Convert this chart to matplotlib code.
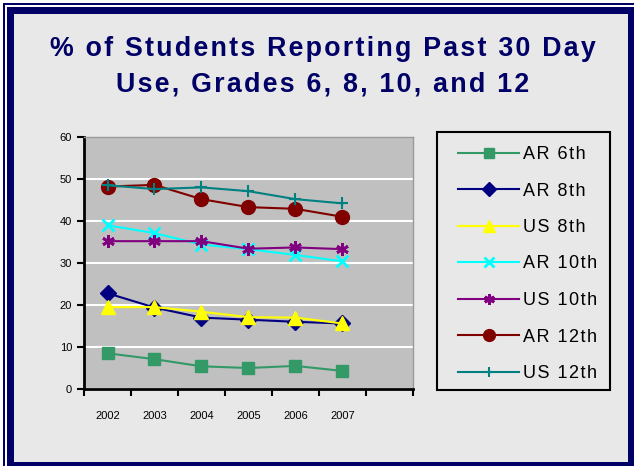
import matplotlib

matplotlib.use("Agg")
import matplotlib.pyplot as plt
from matplotlib.patches import Rectangle
import numpy as np

plt.rcParams["font.family"] = ["Liberation Sans", "DejaVu Sans"]

# Data
years = ["2002", "2003", "2004", "2005", "2006", "2007"]
ar_6th = [8.5, 7.1, 5.4, 5.0, 5.5, 4.3]
ar_8th = [22.8, 19.4, 17.0, 16.5, 16.0, 15.6]
us_8th = [19.5, 19.5, 18.4, 17.1, 17.0, 15.6]
ar_10th = [39.0, 37.1, 34.4, 33.3, 31.9, 30.4]
us_10th = [35.2, 35.2, 35.2, 33.4, 33.7, 33.3]
ar_12th = [48.2, 48.6, 45.2, 43.3, 42.9, 41.0]
us_12th = [48.5, 47.6, 48.0, 47.1, 45.2, 44.2]

series = [
    ("AR 6th", ar_6th, "#339966", "s", 9, 1.0),
    ("AR 8th", ar_8th, "#000080", "D", 8, 1.0),
    ("US 8th", us_8th, "#ffff00", "^", 10, 1.0),
    ("AR 10th", ar_10th, "#00ffff", "x", 8, 2.0),
    ("US 10th", us_10th, "#800080", (6, 2, 0), 9, 2.0),
    ("AR 12th", ar_12th, "#800000", "o", 10, 1.0),
    ("US 12th", us_12th, "#008080", "+", 9, 1.5),
]

NAVY = "#000066"
BG = "#e8e8e8"
HAIR = "\u200a"


def spaced(s):
    # mimic the wide letter spacing of the original
    return HAIR.join(s)


fig = plt.figure(figsize=(6.34, 4.66), dpi=100)
fig.patch.set_facecolor("white")

W, H = 634, 466


def px_rect(x0, y0, x1, y1, z=-5, **kw):
    # rectangle in pixel coords (top-left origin)
    fig.patches.append(
        Rectangle((x0 / W, 1 - y1 / H), (x1 - x0) / W, (y1 - y0) / H,
                  transform=fig.transFigure, figure=fig, zorder=z, **kw)
    )


# double navy frame
px_rect(3, 3, 640, 470, facecolor=NAVY, edgecolor="none")
px_rect(5, 5, 640, 470, facecolor="white", edgecolor="none")
px_rect(7, 7, 640, 470, facecolor=NAVY, edgecolor="none")
px_rect(14, 14, 628, 462, facecolor=BG, edgecolor="none")
# legend box
px_rect(437, 132, 610, 390, z=-4, facecolor="none", edgecolor="black",
        linewidth=1.5)

fig.text(0.509, 1 - 49 / H, spaced("% of Students Reporting Past 30 Day"),
         ha="center", va="center", fontsize=19.3, fontweight="bold", color=NAVY)
fig.text(0.509, 1 - 84 / H, spaced("Use, Grades 6, 8, 10, and 12"),
         ha="center", va="center", fontsize=19.3, fontweight="bold", color=NAVY)

ax = fig.add_axes([84 / W, 1 - 389 / H, (413 - 84) / W, (389 - 137) / H])
ax.set_facecolor("#c0c0c0")

x = np.arange(len(years)) + 0.5
for label, vals, color, marker, ms, mew in series:
    ax.plot(x, vals, color=color, marker=marker, markersize=ms,
            markerfacecolor=color, markeredgecolor=color, markeredgewidth=mew,
            linewidth=1.5, label=spaced(label), zorder=3)

ax.set_xlim(0, 7)
ax.set_ylim(0, 60)
ax.set_yticks(range(0, 61, 10))
ax.set_xticks(range(0, 8))
ax.set_xticklabels([])
ax.set_xticks(x, minor=True)
ax.set_xticklabels(years, minor=True)
ax.tick_params(axis="x", which="minor", length=0, labelsize=8, pad=16)
ax.tick_params(axis="x", which="major", length=5, width=1.5, direction="out")
ax.tick_params(axis="y", length=5, width=1.5, direction="out", labelsize=8)
ax.yaxis.grid(True, color="white", linewidth=1.5)
ax.set_axisbelow(True)
for side in ["left", "bottom"]:
    ax.spines[side].set_linewidth(2)
    ax.spines[side].set_color("black")
for side in ["top", "right"]:
    ax.spines[side].set_color("#999999")
    ax.spines[side].set_linewidth(1)

leg = fig.legend(loc="upper left", bbox_to_anchor=(458 / W, 1 - 146 / H),
                 frameon=False, fontsize=13,
                 labelspacing=1.08, handlelength=3.4, borderpad=0,
                 handletextpad=0.22, borderaxespad=0, markerscale=0.85)

fig.savefig("out.png", dpi=100, facecolor=fig.get_facecolor())
